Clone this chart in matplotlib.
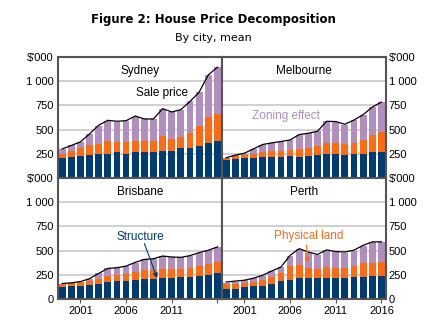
import numpy as np
import matplotlib
matplotlib.use("Agg")
import matplotlib.pyplot as plt

######## data ($'000) ########

years = list(range(1999, 2017))

sydney_structure = [202, 212, 223, 233, 243, 253, 264, 253, 264, 264, 271, 284, 284, 305, 315, 329, 366, 387]
sydney_land      = [253, 274, 305, 339, 353, 387, 373, 373, 387, 387, 387, 438, 408, 428, 469, 534, 627, 664]
sydney_total     = [301, 336, 373, 455, 538, 590, 579, 592, 634, 610, 610, 716, 682, 706, 791, 887, 1065, 1144]
sydney_sale      = [300, 336, 373, 455, 545, 596, 586, 592, 640, 610, 610, 716, 682, 706, 791, 887, 1065, 1144]

melbourne_structure = [182, 192, 202, 202, 212, 212, 212, 223, 212, 223, 236, 247, 247, 236, 247, 247, 267, 267]
melbourne_land      = [205, 226, 236, 247, 267, 277, 277, 288, 298, 308, 329, 366, 366, 349, 366, 397, 449, 473]
melbourne_total     = [209, 236, 253, 301, 346, 363, 377, 390, 449, 462, 483, 586, 579, 551, 599, 654, 733, 784]
melbourne_sale      = [209, 236, 256, 301, 346, 363, 377, 393, 449, 462, 483, 586, 583, 555, 599, 654, 733, 784]

brisbane_structure = [125, 139, 139, 142, 160, 174, 184, 184, 194, 208, 208, 215, 215, 225, 225, 239, 250, 267]
brisbane_land      = [160, 167, 177, 191, 208, 236, 246, 257, 278, 298, 298, 312, 312, 312, 319, 340, 357, 378]
brisbane_total     = [160, 167, 180, 208, 264, 316, 323, 340, 375, 409, 416, 444, 434, 430, 444, 479, 503, 538]
brisbane_sale      = [160, 167, 180, 210, 264, 316, 323, 340, 378, 409, 416, 444, 434, 430, 448, 479, 503, 538]

perth_structure = [108, 108, 121, 132, 132, 156, 184, 201, 212, 212, 212, 219, 219, 219, 229, 229, 236, 236]
perth_land      = [153, 156, 167, 177, 194, 226, 267, 340, 350, 319, 309, 330, 319, 319, 337, 368, 371, 378]
perth_total     = [167, 180, 194, 212, 239, 285, 326, 444, 520, 472, 451, 507, 486, 479, 500, 548, 590, 590]
perth_sale      = [175, 185, 194, 215, 245, 290, 330, 450, 520, 485, 460, 507, 490, 485, 505, 555, 590, 590]

cities = ["Sydney", "Melbourne", "Brisbane", "Perth"]
structure = [sydney_structure, melbourne_structure, brisbane_structure, perth_structure]
land = [sydney_land, melbourne_land, brisbane_land, perth_land]
total = [sydney_total, melbourne_total, brisbane_total, perth_total]
sale = [sydney_sale, melbourne_sale, brisbane_sale, perth_sale]

ytick_vals = [0, 250, 500, 750, 1000, 1250]
ytick_labels = ["0", "250", "500", "750", "1 000", "$'000"]
xtick_vals = [2001, 2006, 2011, 2016]

c_struct = "#003B73"
c_land = "#FF6A13"
c_zoning = "#B08EC0"
frame = "#555555"

######## plot ########

plt.rcParams["font.family"] = ["Liberation Sans", "DejaVu Sans"]

fig, axes = plt.subplots(2, 2, figsize=(4.26, 3.27), dpi=100)
fig.subplots_adjust(left=58/426, right=386/426, top=1-57/327, bottom=1-299/327, wspace=0, hspace=0)

for i, ax in enumerate(axes.flat):
	s = np.array(structure[i])
	l = np.array(land[i])
	t = np.array(total[i])
	ax.bar(years, s, width=0.75, color=c_struct, zorder=2)
	ax.bar(years, l - s, bottom=s, width=0.75, color=c_land, zorder=2)
	ax.bar(years, t - l, bottom=l, width=0.75, color=c_zoning, zorder=2)
	ax.plot(years, sale[i], color="black", lw=0.9, zorder=3)

	ax.set_xlim(1998.55, 2016.5)
	ax.set_ylim(0, 1250)
	ax.set_yticks(ytick_vals)
	labels = list(ytick_labels)
	if i < 2:
		labels[0] = ""
	ax.set_yticklabels(labels, fontsize=8)
	ax.yaxis.grid(True, color="#C8C8C8", lw=1.2, zorder=0)
	ax.set_axisbelow(True)
	ax.tick_params(axis="y", length=0, pad=3)
	if i % 2 == 1:
		ax.yaxis.tick_right()
		ax.tick_params(axis="y", length=0, pad=2)

	ax.set_xticks(xtick_vals)
	ax.tick_params(axis="x", length=3, width=0.8, color=frame, labelsize=8, pad=2)
	if i < 2:
		ax.set_xticklabels([])
		ax.tick_params(axis="x", length=0)
	elif i == 2:
		ax.set_xticklabels(["2001", "2006", "2011", ""])
	else:
		ax.set_xticklabels(["2001", "2006", "2011", "2016"])

	for sp in ax.spines.values():
		sp.set_color(frame)
		sp.set_linewidth(1.5)

	ax.text(0.5, 0.93, cities[i], transform=ax.transAxes, ha="center", va="top", fontsize=8.5)

# annotations
arrow = dict(arrowstyle="-|>", lw=0.8, mutation_scale=7, shrinkA=0, shrinkB=0)

axes[0, 0].text(2009.9, 875, "Sale price", ha="center", va="center", fontsize=8.5, color="black")
axes[0, 1].text(2005.6, 640, "Zoning effect", ha="center", va="center", fontsize=8.5, color=c_zoning)

axes[1, 0].text(2007.6, 640, "Structure", ha="center", va="center", fontsize=8.5, color=c_struct)
axes[1, 0].annotate("", xy=(2009.4, 216), xytext=(2008.0, 573), arrowprops=dict(arrow, color=c_struct))

axes[1, 1].text(2008.0, 646, "Physical land", ha="center", va="center", fontsize=8.5, color=c_land)
axes[1, 1].annotate("", xy=(2007.9, 375), xytext=(2007.8, 555), arrowprops=dict(arrow, color=c_land))

fig.text(0.5, 1-20/327, "Figure 2: House Price Decomposition", ha="center", va="center",
	fontsize=8.5, fontweight="bold", family="DejaVu Sans")
fig.text(0.5, 1-38/327, "By city, mean", ha="center", va="center", fontsize=8, family="DejaVu Sans")

fig.savefig("out.png", dpi=100)
